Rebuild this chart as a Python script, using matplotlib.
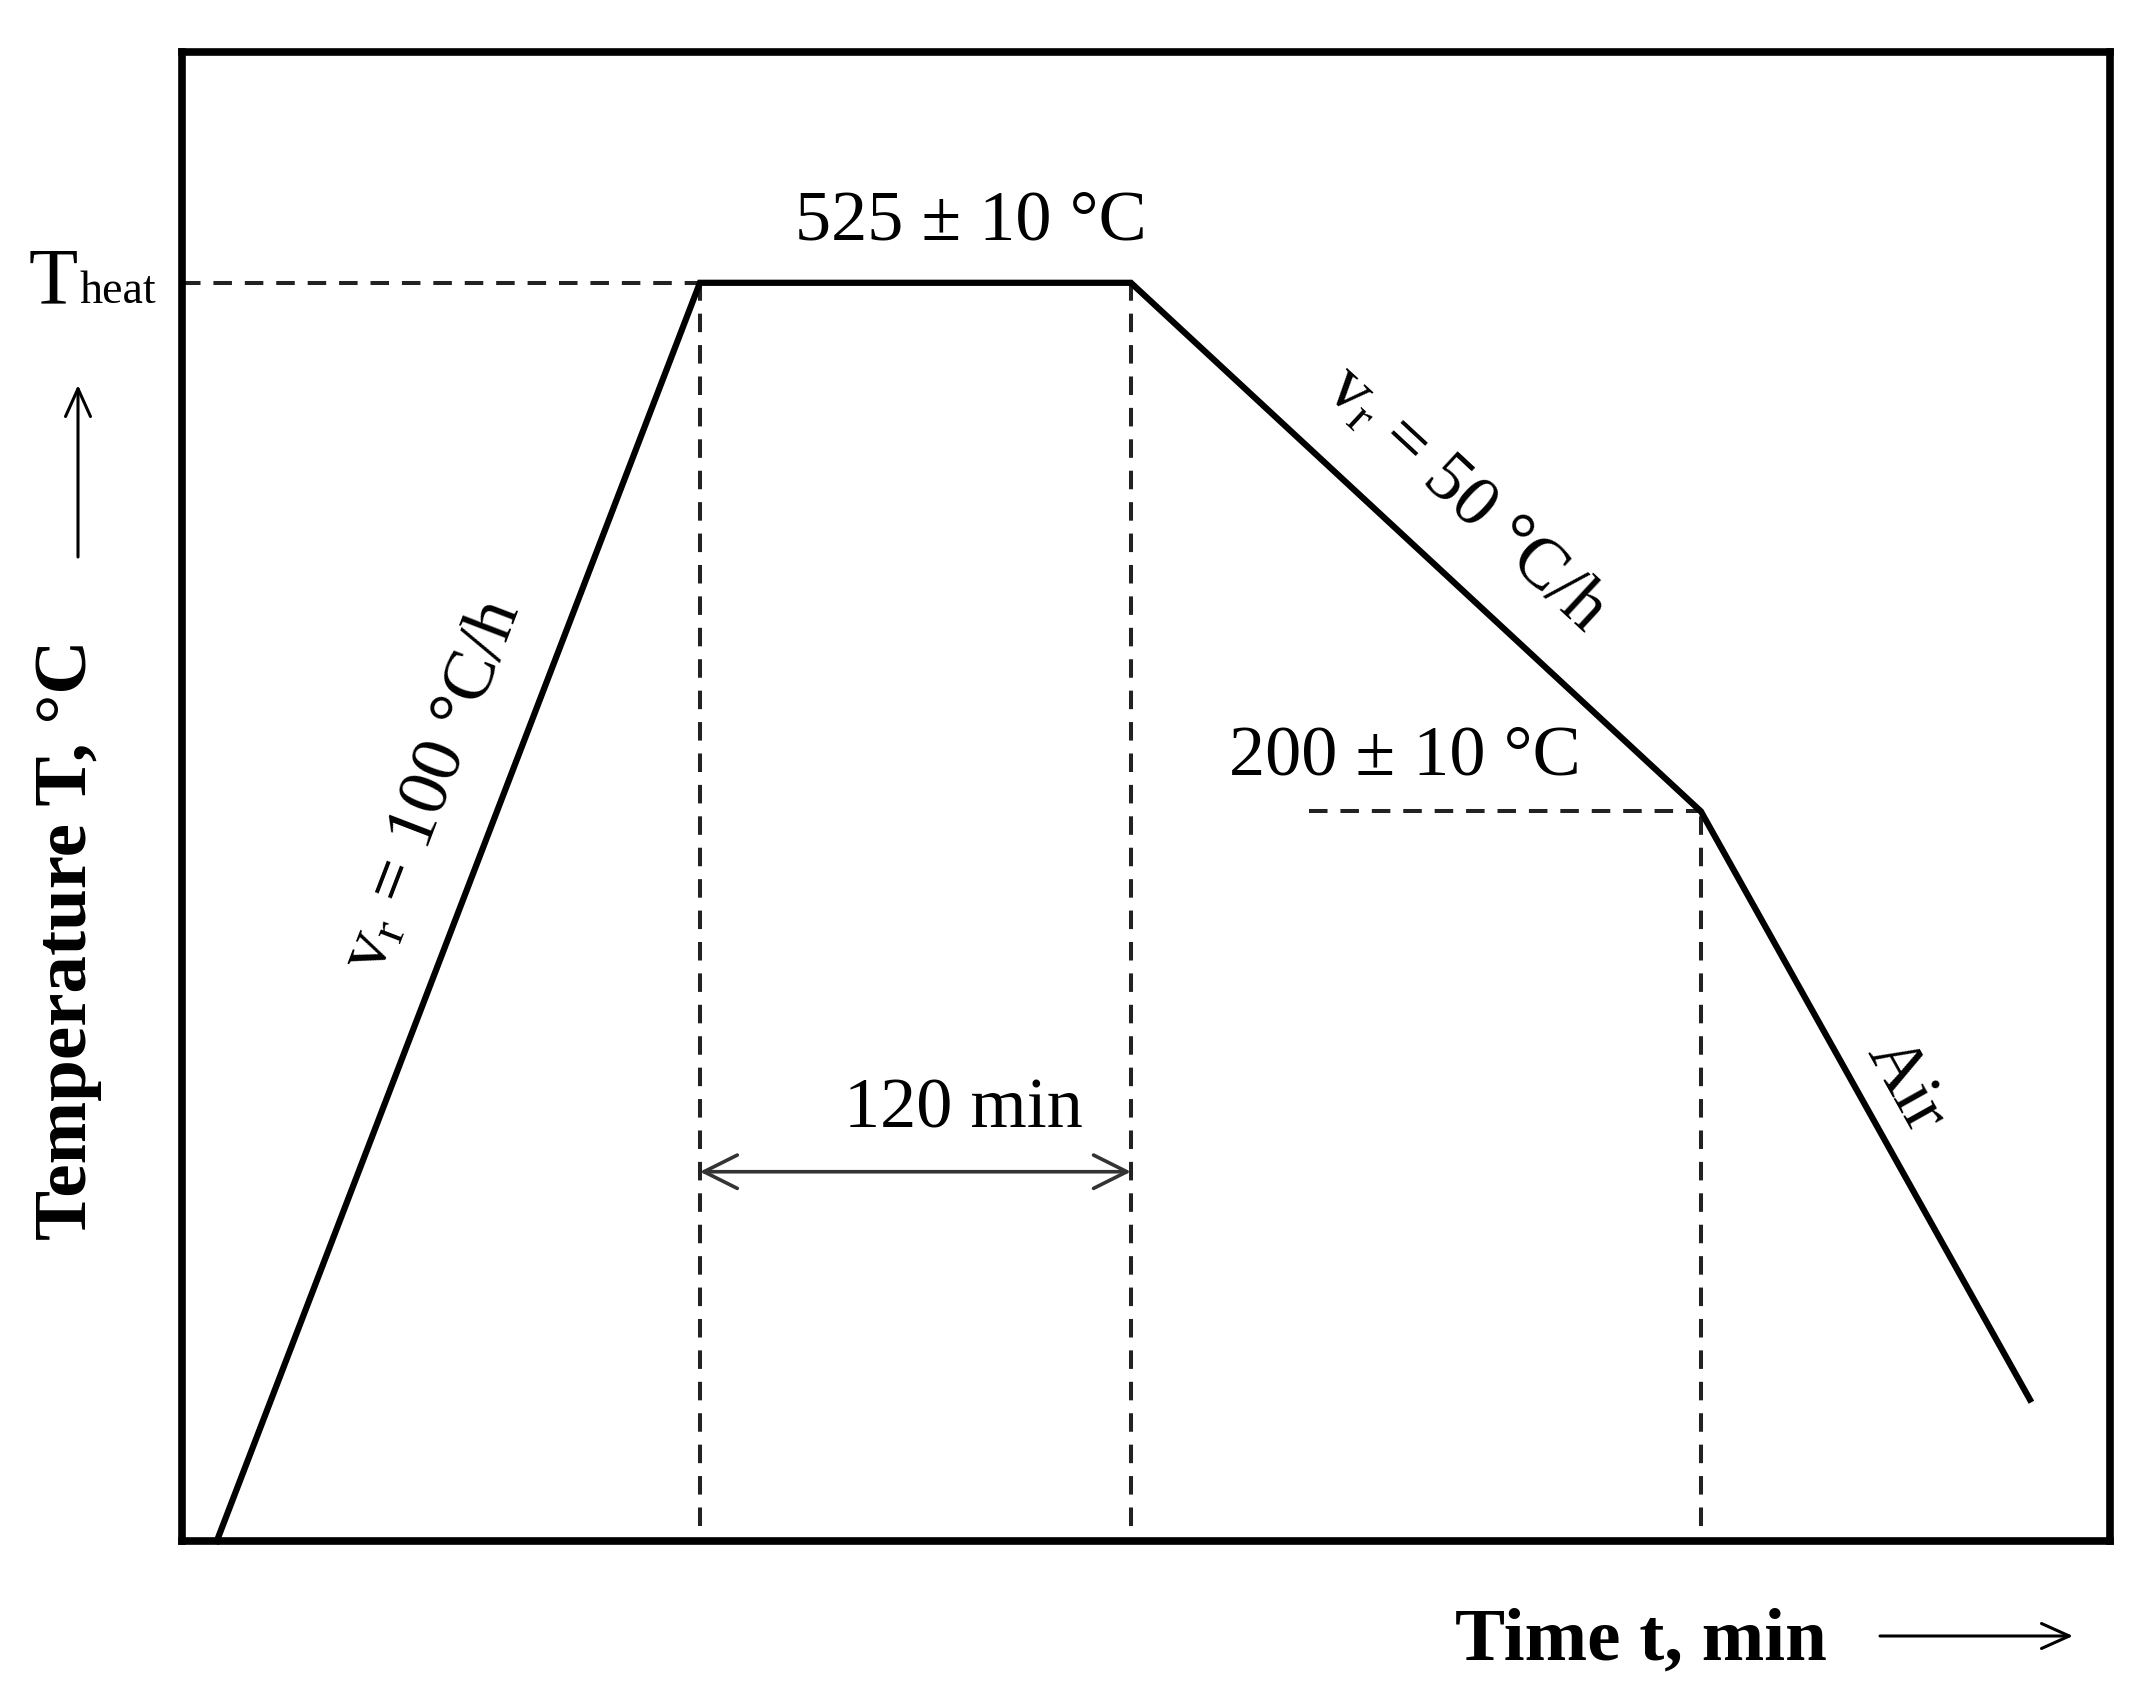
import matplotlib
matplotlib.use("Agg")
import matplotlib.pyplot as plt
from matplotlib.patches import FancyArrowPatch

plt.rcParams['font.family'] = ['Liberation Serif', 'DejaVu Serif']
plt.rcParams['mathtext.fontset'] = 'custom'
plt.rcParams['mathtext.rm'] = 'Liberation Serif'
plt.rcParams['mathtext.it'] = 'Liberation Serif'

# ---- schematic data (time in min, scaled so the hold = 120 min; temperature as level 0..1 of axis) ----
time_pts = [9.7, 144.2, 264.2, 422.9, 514.5]
temp_lvl = [0.0, 0.845, 0.845, 0.490, 0.095]
hold_start, hold_end = 144.2, 264.2
cool_end = 422.9
T_heat_lvl = 0.845
T_cool_lvl = 0.490
cool_dash_start = 313.9
hold_arrow_lvl = 0.248
labels = {
    "hold_T": "525 ± 10 °C",
    "cool_T": "200 ± 10 °C",
    "heat_rate": r"$\mathrm{v_r}$ = 100 °C/h",
    "cool_rate": r"$\mathrm{v_r}$ = 50 °C/h",
    "air": "Air",
    "hold_time": "120 min",
}
xlabel = "Time t, min"
ylabel = "Temperature T, °C"

W, H = 2155, 1704
fig = plt.figure(figsize=(W / 100, H / 100), dpi=100)
ax = fig.add_axes([182 / W, 1 - 1541 / H, 1928 / W, 1489 / H])
ax.set_xlim(0, 536.8)
ax.set_ylim(0, 1)
ax.set_xticks([])
ax.set_yticks([])
for s in ax.spines.values():
    s.set_linewidth(5.5)
    s.set_color('black')

dash_kw = dict(color='#222222', lw=2.9, dashes=(4.6, 3.2), zorder=2)
# dashed guides
ax.plot([0, hold_start], [T_heat_lvl, T_heat_lvl], **dash_kw)
ax.plot([hold_start, hold_start], [0.01, T_heat_lvl], **dash_kw)
ax.plot([hold_end, hold_end], [0.01, T_heat_lvl], **dash_kw)
ax.plot([cool_dash_start, cool_end], [T_cool_lvl, T_cool_lvl], **dash_kw)
ax.plot([cool_end, cool_end], [0.01, T_cool_lvl], **dash_kw)

# main curve
ax.plot(time_pts, temp_lvl, color='black', lw=4.5, solid_joinstyle='miter', zorder=3, clip_on=False)

# 120 min double arrow
arr = FancyArrowPatch((hold_start, hold_arrow_lvl), (hold_end, hold_arrow_lvl),
                      arrowstyle='<->,head_length=24,head_width=12', mutation_scale=1,
                      lw=2.6, color='#333333', shrinkA=0, shrinkB=0, zorder=4)
ax.add_patch(arr)

def px(x, y):
    return x / W, 1 - y / H

fs = 52
fig.text(*px(971, 222), labels["hold_T"], ha='center', va='center', fontsize=fs)
fig.text(*px(1405, 757), labels["cool_T"], ha='center', va='center', fontsize=fs)
fig.text(*px(963, 1110), labels["hold_time"], ha='center', va='center', fontsize=fs)
fig.text(*px(433, 786), labels["heat_rate"], ha='center', va='center', fontsize=fs,
         rotation=69.0, rotation_mode='anchor')
fig.text(*px(1466, 500), labels["cool_rate"], ha='center', va='center', fontsize=fs,
         rotation=-42.8, rotation_mode='anchor')
fig.text(*px(1905, 1086), labels["air"], ha='center', va='center', fontsize=fs,
         rotation=-60.8, rotation_mode='anchor')

# T_heat
fig.text(*px(78, 303), "T", ha='right', va='baseline', fontsize=58)
fig.text(*px(80, 303), "heat", ha='left', va='baseline', fontsize=33)

# axis labels
fig.text(*px(68, 940), ylabel, ha='center', va='center', fontsize=54,
         fontweight='bold', rotation=90)
fig.text(*px(1641, 1642), xlabel, ha='center', va='center', fontsize=54,
         fontweight='bold')

# axis direction arrows
up = FancyArrowPatch(px(78, 557), px(78, 385), transform=fig.transFigure,
                     arrowstyle='->,head_length=20,head_width=9', mutation_scale=1,
                     lw=2.2, color='black', shrinkA=0, shrinkB=0)
fig.patches.append(up)
right = FancyArrowPatch(px(1880, 1636), px(2073, 1636), transform=fig.transFigure,
                        arrowstyle='->,head_length=20,head_width=9', mutation_scale=1,
                        lw=2.2, color='black', shrinkA=0, shrinkB=0)
fig.patches.append(right)

fig.savefig("out.png", dpi=100, facecolor='white')
